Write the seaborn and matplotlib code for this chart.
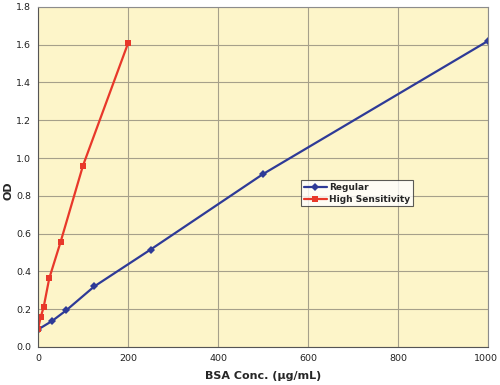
import pandas as pd
import seaborn as sns
import matplotlib.pyplot as plt
import matplotlib.transforms as mtrans

regular_conc = [0, 31.25, 62.5, 125, 250, 500, 1000]
regular_od = [0.092, 0.137, 0.193, 0.320, 0.515, 0.915, 1.620]
hs_conc = [0, 6.25, 12.5, 25, 50, 100, 200]
hs_od = [0.095, 0.160, 0.210, 0.363, 0.554, 0.960, 1.607]

df = pd.concat([
    pd.DataFrame({'conc': regular_conc, 'od': regular_od, 'series': 'Regular'}),
    pd.DataFrame({'conc': hs_conc, 'od': hs_od, 'series': 'High Sensitivity'}),
])

sns.set_style('white')
plt.rcParams['font.family'] = ['DejaVu Sans']

fig = plt.figure(figsize=(5, 3.85), dpi=100)
ax = fig.add_axes([0.076, 0.099, 0.9, 0.883])
ax.set_facecolor('#fdf5c9')

sns.lineplot(data=df, x='conc', y='od', hue='series', style='series',
             markers={'Regular': 'D', 'High Sensitivity': 's'}, dashes=False,
             palette={'Regular': '#2e3a97', 'High Sensitivity': '#e8382a'},
             markersize=4.5, markeredgewidth=0, linewidth=1.6, ax=ax)

ax.set_xlim(0, 1000)
ax.set_ylim(0, 1.8)
ax.set_xticks(range(0, 1001, 200))
ax.set_yticks([i / 10 for i in range(0, 19, 2)])
ax.yaxis.set_major_formatter(plt.FuncFormatter(lambda v, p: f'{v:.1f}'))
ax.grid(True, color='#a6a08a', linewidth=0.8)
ax.set_axisbelow(True)
for s in ax.spines.values():
    s.set_color('#8c8c8c')
    s.set_linewidth(0.8)
ax.spines['left'].set_color('#555555')
ax.spines['bottom'].set_color('#555555')
ax.tick_params(axis='both', labelsize=6.8, length=0, pad=5, labelcolor='#222222')

# keep the last x label inside the canvas
last = ax.get_xticklabels()[-1]
last.set_horizontalalignment('right')
last.set_transform(last.get_transform() + mtrans.ScaledTranslation(0.1, 0, fig.dpi_scale_trans))

ax.set_xlabel('BSA Conc. (µg/mL)', fontsize=8, fontweight='bold')
ax.xaxis.set_label_coords(0.5, -0.07)
ax.set_ylabel('OD', fontsize=8, fontweight='bold')
ax.yaxis.set_label_coords(-0.054, 0.46)

leg = ax.legend(loc='upper left', bbox_to_anchor=(0.585, 0.49), fontsize=6.5,
                frameon=True, fancybox=False, edgecolor='#333333',
                borderpad=0.3, handlelength=2.5, labelspacing=0.3,
                handletextpad=0.3, borderaxespad=0)
leg.get_frame().set_linewidth(0.8)
for t in leg.get_texts():
    t.set_fontweight('bold')

fig.savefig('out.png', dpi=100)
